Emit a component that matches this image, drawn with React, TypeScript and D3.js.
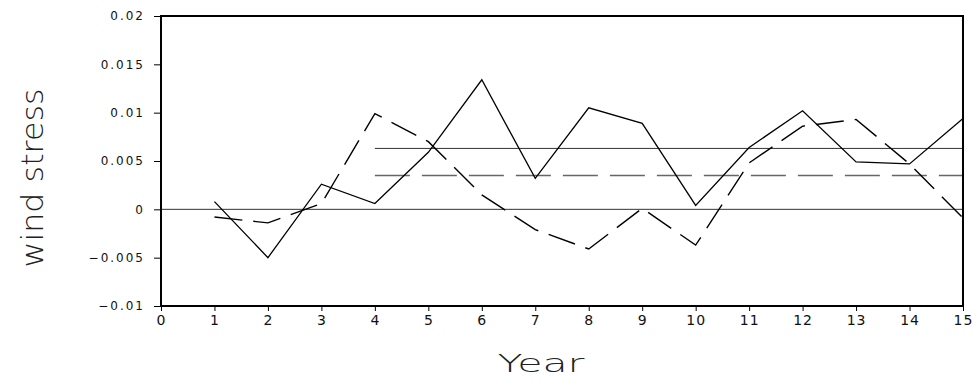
import * as d3 from "d3";
import { useEffect, useRef } from "react";

const years = [1, 2, 3, 4, 5, 6, 7, 8, 9, 10, 11, 12, 13, 14, 15];
const solidSeries = [
  0.0008, -0.005, 0.0026, 0.0006, 0.0059, 0.0134, 0.0032, 0.0105, 0.0089,
  0.0004, 0.0064, 0.0102, 0.0049, 0.0047, 0.0094,
];
const dashedSeries = [
  -0.0008, -0.0014, 0.0006, 0.0099, 0.007, 0.0015, -0.0021, -0.0041, 0.0001,
  -0.0037, 0.0048, 0.0086, 0.0093, 0.0047, -0.0009,
];
// mean lines drawn over the years 4..15
const meanRange = [4, 15];
const solidMean = 0.0063;
const dashedMean = 0.0035;
const xTicks = [0, 1, 2, 3, 4, 5, 6, 7, 8, 9, 10, 11, 12, 13, 14, 15];
const yTicks = [-0.01, -0.005, 0, 0.005, 0.01, 0.015, 0.02];

const W = 979;
const H = 387;
const margin = { top: 16, right: 16, bottom: 81, left: 161 };
const FONT = "'DejaVu Sans', sans-serif";

export default function App() {
  const svgRef = useRef(null);

  useEffect(() => {
    document.body.style.margin = "0";
    const svg = d3.select(svgRef.current);
    svg.selectAll("*").remove();
    svg.attr("width", W).attr("height", H);

    const x = d3
      .scaleLinear()
      .domain([0, 15])
      .range([margin.left, W - margin.right]);
    const y = d3
      .scaleLinear()
      .domain([-0.01, 0.02])
      .range([H - margin.bottom, margin.top]);

    // zero line
    svg
      .append("line")
      .attr("x1", x(0))
      .attr("x2", x(15))
      .attr("y1", y(0))
      .attr("y2", y(0))
      .attr("stroke", "#333")
      .attr("stroke-width", 1);

    // mean lines
    svg
      .append("line")
      .attr("x1", x(meanRange[0]))
      .attr("x2", x(meanRange[1]))
      .attr("y1", y(solidMean))
      .attr("y2", y(solidMean))
      .attr("stroke", "#333")
      .attr("stroke-width", 1);
    svg
      .append("line")
      .attr("x1", x(meanRange[0]))
      .attr("x2", x(meanRange[1]))
      .attr("y1", y(dashedMean))
      .attr("y2", y(dashedMean))
      .attr("stroke", "#666")
      .attr("stroke-width", 1.5)
      .attr("stroke-dasharray", "35 12");

    const line = d3
      .line<number>()
      .x((d, i) => x(years[i]))
      .y((d) => y(d));

    svg
      .append("path")
      .attr("d", line(dashedSeries))
      .attr("fill", "none")
      .attr("stroke", "#000")
      .attr("stroke-width", 1.4)
      .attr("stroke-dasharray", "28 11");
    svg
      .append("path")
      .attr("d", line(solidSeries))
      .attr("fill", "none")
      .attr("stroke", "#000")
      .attr("stroke-width", 1.3);

    // frame
    svg
      .append("rect")
      .attr("x", x(0))
      .attr("y", y(0.02))
      .attr("width", x(15) - x(0))
      .attr("height", y(-0.01) - y(0.02))
      .attr("fill", "none")
      .attr("stroke", "#000")
      .attr("stroke-width", 2);

    // y axis
    const yAxis = svg
      .append("g")
      .attr("transform", `translate(${x(0)},0)`)
      .call(
        d3
          .axisLeft(y)
          .tickValues(yTicks)
          .tickSize(7)
          .tickPadding(9)
          .tickFormat((d) => d3.format("~g")(d as number))
      );
    yAxis.select(".domain").remove();
    yAxis.selectAll("line").attr("stroke", "#000").attr("stroke-width", 1);
    yAxis
      .selectAll("text")
      .attr("font-family", FONT)
      .attr("font-size", 12)
      .attr("letter-spacing", 2)
      .attr("fill", "#111");

    // x axis
    const xAxis = svg
      .append("g")
      .attr("transform", `translate(0,${y(-0.01)})`)
      .call(
        d3
          .axisBottom(x)
          .tickValues(xTicks)
          .tickSize(5)
          .tickPadding(4)
          .tickFormat((d) => String(d))
      );
    xAxis.select(".domain").remove();
    xAxis.selectAll("line").attr("stroke", "#000").attr("stroke-width", 1);
    xAxis
      .selectAll("text")
      .attr("font-family", FONT)
      .attr("font-size", 14)
      .attr("letter-spacing", 1)
      .attr("fill", "#111");

    // axis titles
    svg
      .append("text")
      .attr("transform", `translate(43,${(y(0.02) + y(-0.01)) / 2 + 17}) rotate(-90)`)
      .attr("text-anchor", "middle")
      .attr("font-family", FONT)
      .attr("font-size", 30)
      .attr("font-weight", 200)
      .attr("textLength", 179)
      .attr("lengthAdjust", "spacingAndGlyphs")
      .attr("fill", "#222")
      .text("wind stress");

    svg
      .append("text")
      .attr("x", 541)
      .attr("y", 372)
      .attr("text-anchor", "middle")
      .attr("font-family", FONT)
      .attr("font-size", 25)
      .attr("font-weight", 200)
      .attr("textLength", 87)
      .attr("lengthAdjust", "spacingAndGlyphs")
      .attr("fill", "#222")
      .text("Year");
  }, []);

  return (
    <div>
      <svg ref={svgRef} style={{ display: "block" }}></svg>
    </div>
  );
}
